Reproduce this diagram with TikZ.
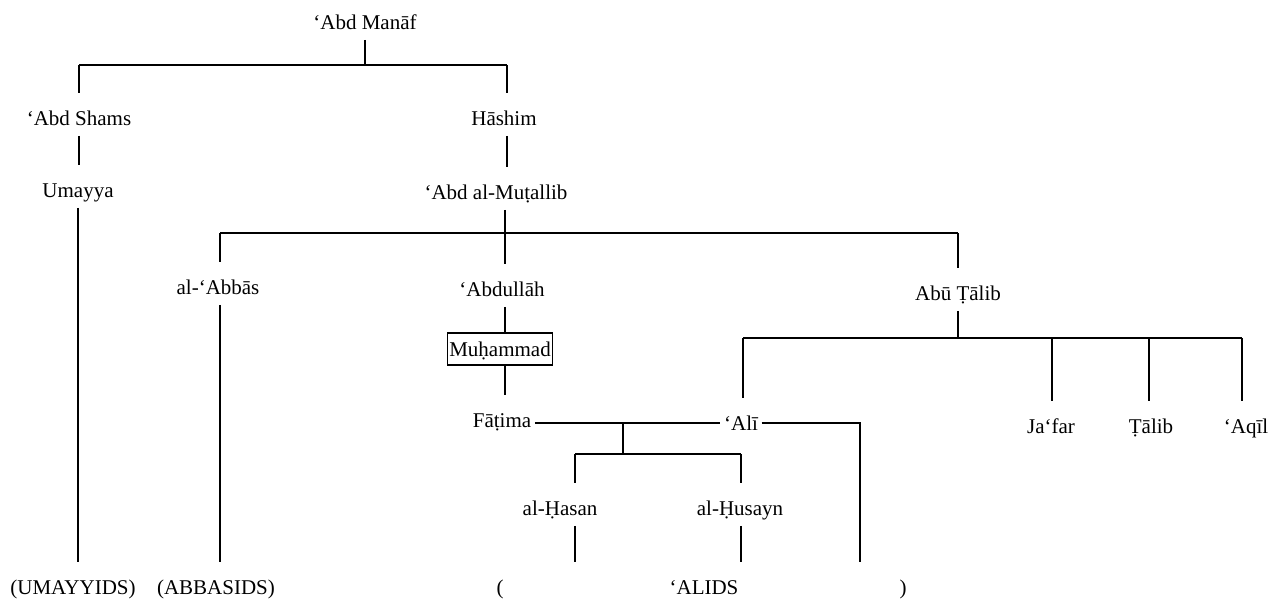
\documentclass[tikz,border=0pt]{standalone}
\usepackage{fontspec}
\setmainfont{Liberation Serif}
\begin{document}
\begin{tikzpicture}[x=0.5pt,y=-0.5pt,line width=0.75pt,
  person/.style={inner xsep=1.5pt,inner ysep=0pt,text height=15.5pt,text depth=5pt,yshift=1.75pt,font=\fontsize{10.5}{12}\selectfont},
  framed/.style={draw,inner sep=0pt,minimum width=52.5pt,minimum height=16pt,text height=7pt,text depth=0pt,font=\fontsize{10.5}{12}\selectfont}]
\fill[white] (0,0) rectangle (1279,601);
\useasboundingbox (0,0) rectangle (1279,601);
% nodes
\node[person] (manaf) at (365,22) {‘Abd Manāf};
\coordinate (j1) at (365,65);
\coordinate (a1) at (79,65);
\coordinate (a2) at (507,65);
\node[person] (abdshams) at (79,118) {‘Abd Shams};
\node[person] (hashim) at (504,118) {Hāshim};
\node[person] (umayya) at (78,190) {Umayya};
\node[person] (mutallib) at (496,192) {‘Abd al-Muṭallib};
\coordinate (b0) at (505,233);
\coordinate (b1) at (220,233);
\coordinate (b2) at (958,233);
\node[person] (abbas) at (218,287) {al-‘Abbās};
\node[person] (abdullah) at (502,289) {‘Abdullāh};
\node[framed] (muhammad) at (500,349) {Muḥammad};
\node[person] (abutalib) at (958,293) {Abū Ṭālib};
\coordinate (c0) at (958,338);
\coordinate (c1) at (743,338);
\coordinate (c2) at (1052,338);
\coordinate (c3) at (1149,338);
\coordinate (c4) at (1242,338);
\node[person] (fatima) at (502,420) {Fāṭima};
\node[person] (ali) at (741,423) {‘Alī};
\node[person] (jafar) at (1051,426) {Ja‘far};
\node[person] (talib) at (1151,426) {Ṭālib};
\node[person] (aqil) at (1246,426) {‘Aqīl};
\coordinate (m) at (623,423);
\coordinate (d0) at (623,454);
\coordinate (d1) at (575,454);
\coordinate (d2) at (741,454);
\node[person] (hasan) at (560,508) {al-Ḥasan};
\node[person] (husayn) at (740,508) {al-Ḥusayn};
\coordinate (e1) at (860,423);
\node[person] (umayyids) at (73,587) {(UMAYYIDS)};
\node[person] (abbasids) at (216,587) {(ABBASIDS)};
\node[person] (lp) at (500,587) {(};
\node[person] (alids) at (704,587) {‘ALIDS};
\node[person] (rp) at (903,587) {)};
% connectors
\draw (manaf) -- (j1);
\draw (a1) -- (a2);
\draw (a1) -- (a1 |- abdshams.north);
\draw (a2) -- (a2 |- hashim.north);
\draw (a1 |- abdshams.south) -- (a1 |- umayya.north);
\draw (umayya.south) -- (umayya.south |- umayyids.north);
\draw (a2 |- hashim.south) -- (a2 |- mutallib.north);
\draw (b1) -- (b2);
\draw (b0 |- mutallib.south) -- (b0 |- abdullah.north);
\draw (b1) -- (b1 |- abbas.north);
\draw (b1 |- abbas.south) -- (b1 |- abbasids.north);
\draw (b0 |- abdullah.south) -- (b0 |- muhammad.north);
\draw (b0 |- muhammad.south) -- (b0 |- fatima.north);
\draw (b2) -- (abutalib);
\draw (abutalib) -- (c0);
\draw (c1) -- (c4);
\draw (c1) -- (c1 |- ali.north);
\draw (c2) -- (c2 |- jafar.north);
\draw (c3) -- (c3 |- talib.north);
\draw (c4) -- (c4 |- aqil.north);
\draw (fatima.east |- m) -- (ali.west |- m);
\draw (m) -- (d0);
\draw (d1) -- (d2);
\draw (d1) -- (d1 |- hasan.north);
\draw (d2) -- (d2 |- husayn.north);
\draw (d1 |- hasan.south) -- (d1 |- alids.north);
\draw (d2 |- husayn.south) -- (d2 |- alids.north);
\draw (ali.east |- e1) -- (e1) -- (e1 |- alids.north);
\end{tikzpicture}
\end{document}
